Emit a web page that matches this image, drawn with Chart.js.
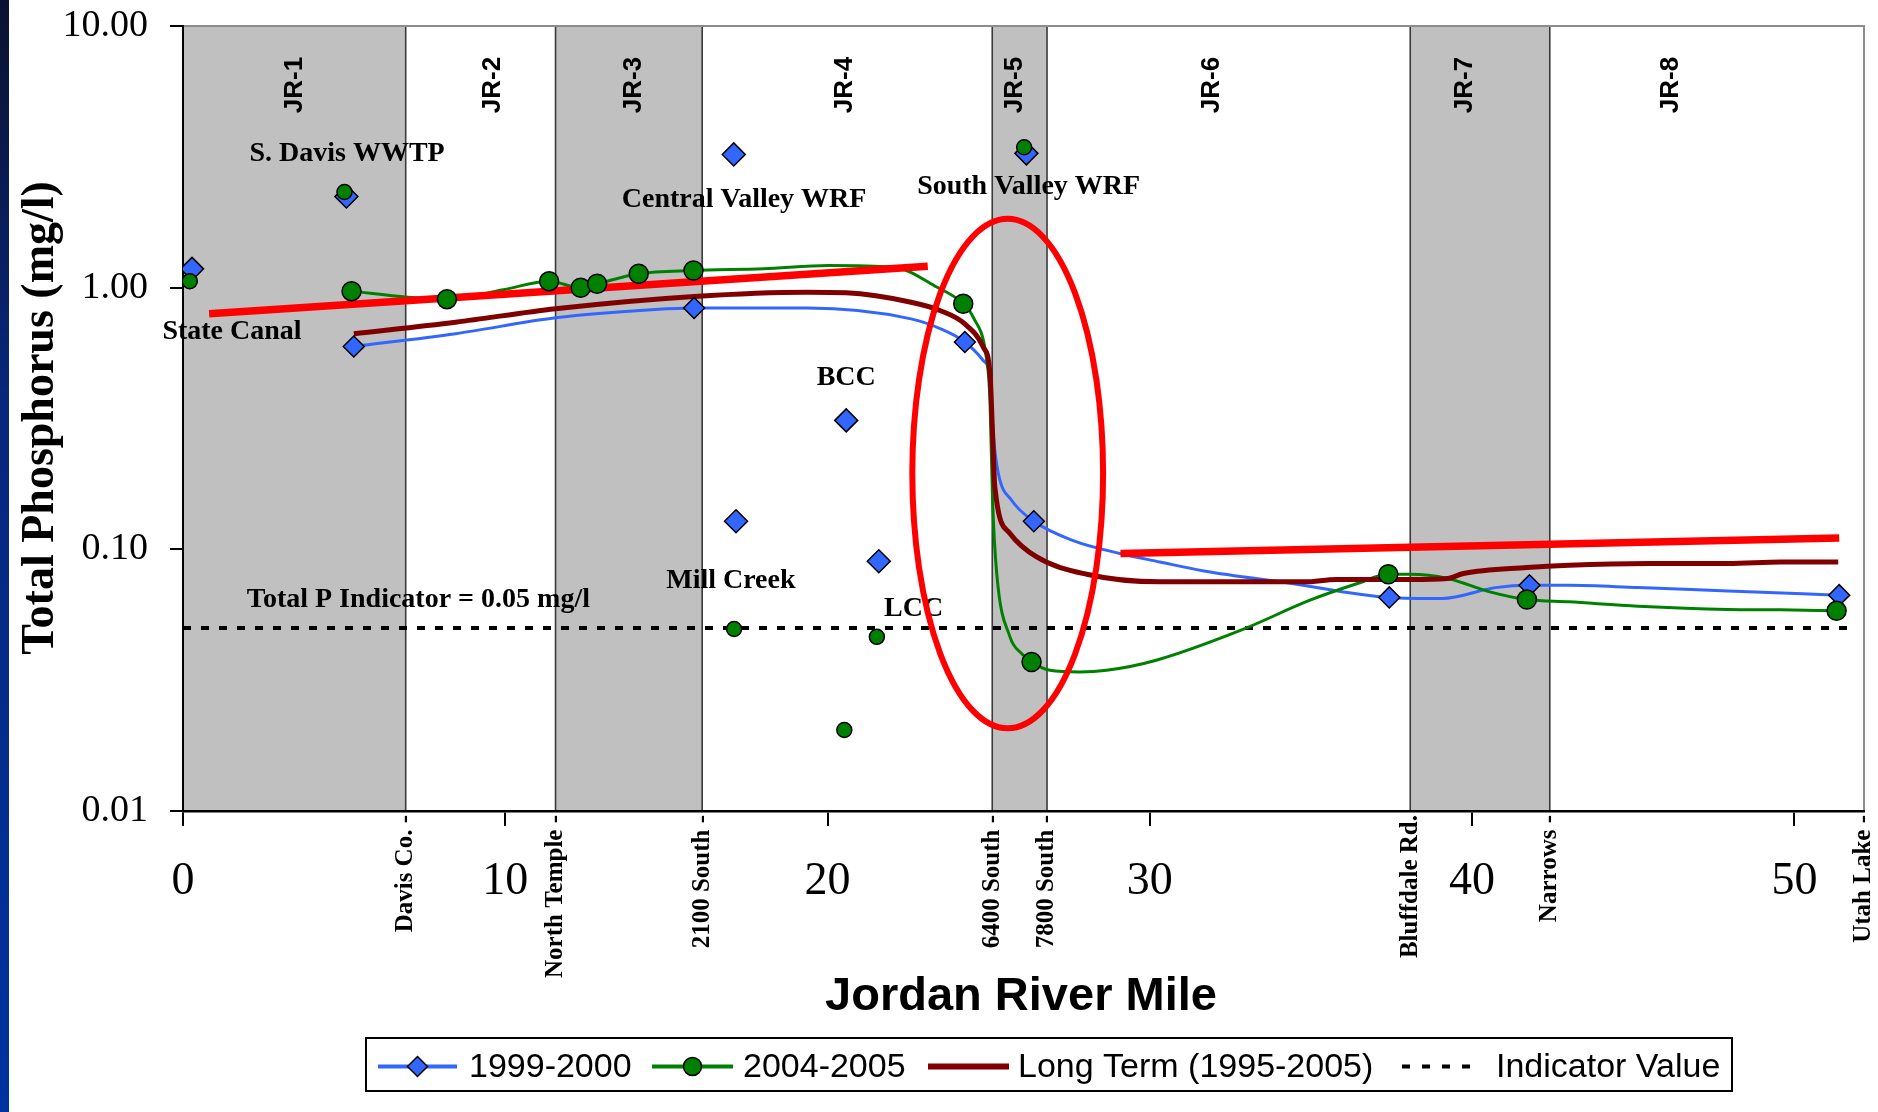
<!DOCTYPE html>
<html>
<head>
<meta charset="utf-8">
<title>Total Phosphorus - Jordan River</title>
<script src="https://cdn.jsdelivr.net/npm/chart.js@4.4.1/dist/chart.umd.min.js"></script>
<style>
  html, body { margin: 0; padding: 0; background: #fff; }
  #wrap { position: relative; width: 1878px; height: 1112px; }
</style>
</head>
<body>
<div id="wrap"><canvas id="tpChart" width="1878" height="1112"></canvas></div>
<script>
// values (river mile, total P in mg/l)
const xTicks = [0, 10, 20, 30, 40, 50];
const yTicks = [0.01, 0.1, 1, 10];

const reachNames = ['JR-1', 'JR-2', 'JR-3', 'JR-4', 'JR-5', 'JR-6', 'JR-7', 'JR-8'];
const reachLabelMiles = [3.46, 9.62, 14.0, 20.53, 25.81, 31.92, 39.78, 46.17];
const boundaryNames = ['Davis Co. -', 'North Temple -', '2100 South -', '6400 South -', '7800 South -', 'Bluffdale Rd.', 'Narrows -', 'Utah Lake -'];
const boundaryMiles = [6.91, 11.56, 16.11, 25.11, 26.81, 38.08, 42.41, 52.16];
const shadedReaches = [[0, 6.91], [11.56, 16.11], [25.11, 26.81], [38.08, 42.41]];

// 1999-2000 profile
const blueLineMiles = [5.30, 8.46, 11.56, 14.65, 15.86, 19.36, 22.59, 23.49, 24.26, 24.83, 25.04, 25.14, 25.30, 25.71, 26.40, 27.62, 29.07, 30.31, 31.68, 34.31, 37.43, 39.07, 40.72, 41.78, 43.01, 45.15, 47.94, 51.39];
const blueLineTP = [0.596, 0.667, 0.767, 0.825, 0.836, 0.836, 0.76, 0.698, 0.62, 0.527, 0.455, 0.277, 0.195, 0.154, 0.128, 0.108, 0.0964, 0.0895, 0.0827, 0.0744, 0.0655, 0.0649, 0.0714, 0.0729, 0.0729, 0.0714, 0.0693, 0.0668];
const blueSiteMiles = [5.30, 15.86, 24.26, 26.40, 37.43, 41.78, 51.39];
const blueSiteTP = [0.596, 0.836, 0.62, 0.128, 0.0655, 0.0729, 0.0668];
const blueInflowMiles = [0.28, 5.07, 17.09, 17.16, 20.58, 21.59, 26.17];
const blueInflowTP = [1.18, 2.23, 3.23, 0.128, 0.311, 0.090, 3.26];

// 2004-2005 profile
const greenLineMiles = [5.23, 6.98, 8.19, 9.94, 11.36, 12.34, 12.85, 14.14, 15.84, 18.01, 20.03, 22.05, 23.40, 24.21, 24.52, 24.94, 25.04, 25.12, 25.25, 25.66, 26.02, 26.33, 26.90, 27.83, 28.66, 30.20, 32.83, 34.97, 36.44, 37.40, 38.09, 39.24, 40.55, 41.70, 43.01, 45.15, 47.94, 49.58, 51.31];
const greenLineTP = [0.97, 0.92, 0.904, 0.982, 1.059, 0.999, 1.035, 1.13, 1.163, 1.181, 1.216, 1.198, 1.004, 0.868, 0.772, 0.527, 0.371, 0.154, 0.0808, 0.0463, 0.040, 0.0371, 0.0345, 0.034, 0.0345, 0.0377, 0.0491, 0.0639, 0.074, 0.0803, 0.0803, 0.0774, 0.0688, 0.0643, 0.063, 0.0606, 0.0589, 0.0587, 0.0582];
const greenSiteMiles = [5.23, 8.19, 11.36, 12.34, 12.85, 14.14, 15.84, 24.21, 26.33, 37.40, 41.70, 51.31];
const greenSiteTP = [0.97, 0.904, 1.059, 0.999, 1.035, 1.13, 1.163, 0.868, 0.0371, 0.0803, 0.0643, 0.0582];
const greenInflowMiles = [0.21, 5.01, 17.1, 20.52, 21.53, 26.1];
const greenInflowTP = [1.059, 2.32, 0.0496, 0.0204, 0.0463, 3.44];

// long term 1995-2005
const longTermMiles = [5.30, 8.46, 11.56, 15.86, 19.36, 20.57, 22.59, 23.49, 24.26, 24.83, 25.04, 25.12, 25.19, 25.66, 26.49, 28.04, 30.31, 31.52, 34.80, 35.79, 38.09, 39.24, 39.73, 41.70, 43.01, 45.48, 47.94, 49.58, 51.36];
const longTermTP = [0.667, 0.738, 0.831, 0.926, 0.961, 0.956, 0.88, 0.818, 0.727, 0.593, 0.469, 0.277, 0.173, 0.115, 0.0935, 0.0803, 0.0751, 0.0751, 0.0751, 0.0767, 0.0767, 0.0774, 0.0808, 0.0852, 0.087, 0.0883, 0.0883, 0.0895, 0.0895];

// indicator and hand-drawn red trend marks
const indicatorMiles = [0, 51.74];
const indicatorTP = [0.05, 0.05];
const trendUpperMiles = [0.81, 23.11];
const trendUpperTP = [0.795, 1.208];
const trendLowerMiles = [29.09, 51.39];
const trendLowerTP = [0.0964, 0.1105];
const ellipseMiles = [22.63, 28.55];
const ellipseTP = [0.0207, 1.833];

const notes = [
  { text: 'S. Davis WWTP', mile: 5.09, tp: 3.06, align: 'center' },
  { text: 'Central Valley WRF', mile: 17.41, tp: 2.04, align: 'center' },
  { text: 'South Valley WRF', mile: 26.24, tp: 2.29, align: 'center' },
  { text: 'State Canal', mile: 1.52, tp: 0.634, align: 'center' },
  { text: 'BCC', mile: 20.58, tp: 0.423, align: 'center' },
  { text: 'Mill Creek', mile: 17.0, tp: 0.071, align: 'center' },
  { text: 'LCC', mile: 22.67, tp: 0.0555, align: 'center' },
  { text: 'Total P Indicator = 0.05 mg/l', mile: 1.98, tp: 0.0601, align: 'left' }
];

const SERIF = '"Liberation Serif", "Times New Roman", serif';
const SANS = '"Liberation Sans", Arial, sans-serif';
const BLUE = '#3366ff', GREEN = '#008000', MAROON = '#800000', RED = '#ff0000';

const pts = (xs, ys) => xs.map((x, i) => ({ x: x, y: ys[i] }));

const legendItems = [
  { label: '1999-2000', color: BLUE, width: 4, x0: 378, x1: 457, tx: 469, marker: { pointStyle: 'rectRot', radius: 10, fill: BLUE } },
  { label: '2004-2005', color: GREEN, width: 4, x0: 652, x1: 733, tx: 743, marker: { pointStyle: 'circle', radius: 9, fill: GREEN } },
  { label: 'Long Term (1995-2005)', color: MAROON, width: 6, x0: 928, x1: 1009, tx: 1018 },
  { label: 'Indicator Value', color: '#000', width: 4, x0: 1402, x1: 1476, tx: 1496, dash: [8, 12] }
];

const decorations = {
  id: 'decorations',
  beforeDraw(chart) {
    const { ctx, chartArea: a, scales: { x } } = chart;
    ctx.save();
    ctx.fillStyle = '#fff';
    ctx.fillRect(0, 0, chart.width, chart.height);
    const g = ctx.createLinearGradient(0, 0, 0, chart.height);
    g.addColorStop(0, '#0b1230');
    g.addColorStop(0.35, '#08267a');
    g.addColorStop(1, '#0033a0');
    ctx.fillStyle = g;
    ctx.fillRect(0, 0, 9, chart.height);

    ctx.fillStyle = '#c0c0c0';
    shadedReaches.forEach(([m0, m1]) => {
      const p0 = x.getPixelForValue(m0), p1 = x.getPixelForValue(m1);
      ctx.fillRect(p0, a.top, p1 - p0, a.bottom - a.top);
    });
    ctx.strokeStyle = '#3a3a3a';
    ctx.lineWidth = 1.6;
    boundaryMiles.slice(0, -1).forEach(m => {
      const p = x.getPixelForValue(m);
      ctx.beginPath();
      ctx.moveTo(p, a.top);
      ctx.lineTo(p, a.bottom);
      ctx.stroke();
    });
    ctx.strokeStyle = '#8c8c8c';
    ctx.lineWidth = 2;
    ctx.beginPath();
    ctx.moveTo(a.left, a.top);
    ctx.lineTo(a.right, a.top);
    ctx.lineTo(a.right, a.bottom);
    ctx.stroke();

    // reach names
    ctx.fillStyle = '#000';
    ctx.font = 'bold 26px ' + SANS;
    ctx.textAlign = 'center';
    ctx.textBaseline = 'middle';
    reachNames.forEach((name, i) => {
      ctx.save();
      ctx.translate(x.getPixelForValue(reachLabelMiles[i]), 85);
      ctx.rotate(-Math.PI / 2);
      ctx.fillText(name, 0, 0);
      ctx.restore();
    });
    ctx.restore();
  },
  afterDatasetsDraw(chart) {
    const { ctx, scales: { x, y } } = chart;
    ctx.save();
    ctx.fillStyle = '#000';
    ctx.font = 'bold 28px ' + SERIF;
    ctx.textBaseline = 'alphabetic';
    notes.forEach(n => {
      ctx.textAlign = n.align;
      ctx.fillText(n.text, x.getPixelForValue(n.mile), y.getPixelForValue(n.tp));
    });

    const ex0 = x.getPixelForValue(ellipseMiles[0]), ex1 = x.getPixelForValue(ellipseMiles[1]);
    const ey0 = y.getPixelForValue(ellipseTP[1]), ey1 = y.getPixelForValue(ellipseTP[0]);
    ctx.strokeStyle = RED;
    ctx.lineWidth = 6;
    ctx.beginPath();
    ctx.ellipse((ex0 + ex1) / 2, (ey0 + ey1) / 2, (ex1 - ex0) / 2, (ey1 - ey0) / 2, 0, 0, Math.PI * 2);
    ctx.stroke();
    ctx.restore();
  },
  afterDraw(chart) {
    const { ctx, chartArea: a, scales: { x } } = chart;
    ctx.save();
    ctx.fillStyle = '#000';

    // landmarks under the axis
    ctx.font = 'bold 25px ' + SERIF;
    ctx.textAlign = 'right';
    ctx.textBaseline = 'middle';
    boundaryNames.forEach((name, i) => {
      ctx.save();
      ctx.translate(x.getPixelForValue(boundaryMiles[i]), a.bottom + 4);
      ctx.rotate(-Math.PI / 2);
      ctx.fillText(name, 0, 0);
      ctx.restore();
    });

    // axis titles
    ctx.font = 'bold 46px ' + SERIF;
    ctx.textAlign = 'center';
    ctx.save();
    ctx.translate(41, 418);
    ctx.rotate(-Math.PI / 2);
    ctx.fillText('Total Phosphorus (mg/l)', 0, 0);
    ctx.restore();
    ctx.font = 'bold 47px ' + SANS;
    ctx.textBaseline = 'alphabetic';
    ctx.fillText('Jordan River Mile', 1021, 1010);

    // legend
    ctx.strokeStyle = '#000';
    ctx.lineWidth = 2;
    ctx.strokeRect(366, 1038, 1366, 53);
    const ly = 1066.5;
    ctx.font = '34px ' + SANS;
    ctx.textAlign = 'left';
    legendItems.forEach(it => {
      ctx.save();
      ctx.strokeStyle = it.color;
      ctx.lineWidth = it.width;
      if (it.dash) ctx.setLineDash(it.dash);
      ctx.beginPath();
      ctx.moveTo(it.x0, ly);
      ctx.lineTo(it.x1, ly);
      ctx.stroke();
      ctx.restore();
      if (it.marker) {
        ctx.save();
        ctx.fillStyle = it.marker.fill;
        ctx.strokeStyle = '#000';
        ctx.lineWidth = 1.5;
        Chart.helpers.drawPoint(ctx, { pointStyle: it.marker.pointStyle, radius: it.marker.radius, borderWidth: 1.5, rotation: 0 }, (it.x0 + it.x1) / 2, ly);
        ctx.restore();
      }
      ctx.fillStyle = '#000';
      ctx.fillText(it.label, it.tx, 1077);
    });
    ctx.restore();
  }
};

const lineStyle = { showLine: true, pointRadius: 0, fill: false, cubicInterpolationMode: 'monotone' };

new Chart(document.getElementById('tpChart'), {
  type: 'scatter',
  data: {
    datasets: [
      { label: '2004-2005 inflows', data: pts(greenInflowMiles, greenInflowTP), order: 1,
        pointStyle: 'circle', pointRadius: 7.5, backgroundColor: GREEN, borderColor: '#000', borderWidth: 1.5 },
      { label: '2004-2005 sites', data: pts(greenSiteMiles, greenSiteTP), order: 1,
        pointStyle: 'circle', pointRadius: 9.5, backgroundColor: GREEN, borderColor: '#000', borderWidth: 1.5 },
      { label: '1999-2000 inflows', data: pts(blueInflowMiles, blueInflowTP), order: 2,
        pointStyle: 'rectRot', pointRadius: 11.5, backgroundColor: BLUE, borderColor: '#000', borderWidth: 1.5 },
      { label: '1999-2000 sites', data: pts(blueSiteMiles, blueSiteTP), order: 2,
        pointStyle: 'rectRot', pointRadius: 10.5, backgroundColor: BLUE, borderColor: '#000', borderWidth: 1.5 },
      Object.assign({ label: 'trend upper', data: pts(trendUpperMiles, trendUpperTP), order: 3,
        borderColor: RED, borderWidth: 7.5 }, lineStyle),
      Object.assign({ label: 'trend lower', data: pts(trendLowerMiles, trendLowerTP), order: 3,
        borderColor: RED, borderWidth: 7.5 }, lineStyle),
      Object.assign({ label: 'Long Term (1995-2005)', data: pts(longTermMiles, longTermTP), order: 4,
        borderColor: MAROON, borderWidth: 5 }, lineStyle),
      Object.assign({ label: '2004-2005', data: pts(greenLineMiles, greenLineTP), order: 5,
        borderColor: GREEN, borderWidth: 3 }, lineStyle),
      Object.assign({ label: '1999-2000', data: pts(blueLineMiles, blueLineTP), order: 6,
        borderColor: BLUE, borderWidth: 3 }, lineStyle),
      Object.assign({ label: 'Indicator Value', data: pts(indicatorMiles, indicatorTP), order: 7,
        borderColor: '#000', borderWidth: 4, borderDash: [8, 10] }, lineStyle)
    ]
  },
  options: {
    responsive: false,
    animation: false,
    devicePixelRatio: 1,
    layout: { padding: { left: 0, right: 14, top: 26, bottom: 0 } },
    plugins: { legend: { display: false }, tooltip: { enabled: false } },
    scales: {
      x: {
        type: 'linear',
        min: 0,
        max: 52.16,
        afterBuildTicks: s => { s.ticks = xTicks.map(v => ({ value: v })); },
        afterFit: s => { s.height = 301; s.paddingLeft = 0; s.paddingRight = 0; },
        grid: { display: true, drawOnChartArea: false, drawTicks: true, tickLength: 15, color: '#000', lineWidth: 2 },
        border: { display: true, color: '#000', width: 2.5 },
        ticks: { color: '#000', padding: 28, font: { family: SERIF, size: 46 }, maxRotation: 0, callback: v => v }
      },
      y: {
        type: 'logarithmic',
        min: 0.01,
        max: 10,
        afterBuildTicks: s => { s.ticks = yTicks.map(v => ({ value: v })); },
        afterFit: s => { s.width = 183; s.paddingTop = 0; s.paddingBottom = 0; },
        grid: { display: true, drawOnChartArea: false, drawTicks: true, tickLength: 13, color: '#000', lineWidth: 2 },
        border: { display: true, color: '#000', width: 2 },
        ticks: { color: '#000', padding: 22, font: { family: SERIF, size: 38 }, callback: v => Number(v).toFixed(2) }
      }
    }
  },
  plugins: [decorations]
});
</script>
</body>
</html>
